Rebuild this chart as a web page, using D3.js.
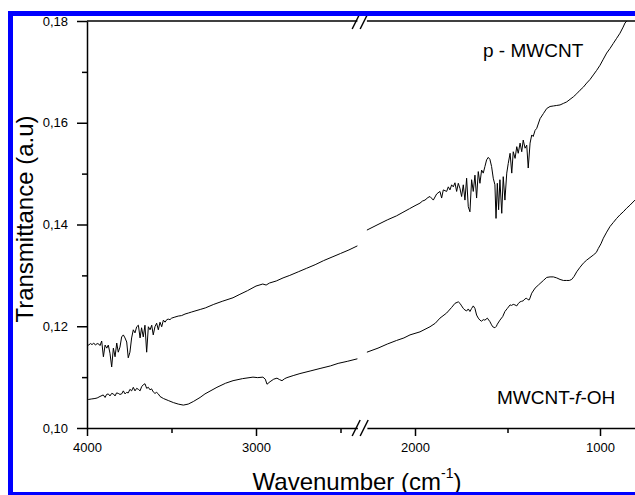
<!DOCTYPE html>
<html>
<head>
<meta charset="utf-8">
<script src="https://cdn.jsdelivr.net/npm/d3@7/dist/d3.min.js"></script>
<style>
  body { margin: 0; background: #fff; }
  text { font-family: Arial, "Liberation Sans", sans-serif; fill: #000; }
</style>
</head>
<body>
<div id="chart"></div>
<script>
// ticks
var xTicksLeft = [4000, 3000];
var xMinorLeft = [3500, 2500];
var xTicksRight = [2000, 1000];
var xMinorRight = [1500];
var yTicks = [0.10, 0.12, 0.14, 0.16, 0.18];
var yMinor = [0.11, 0.13, 0.15, 0.17];

// p - MWCNT, [wavenumber, transmittance]
var pMwcntLeft = [
  [4000,0.1165],[3990,0.1163],[3980,0.1166],[3970,0.1164],[3960,0.1167],[3950,0.1163],[3940,0.1166],
  [3930,0.1165],[3923,0.1162],[3913,0.1171],[3903,0.1140],[3893,0.1163],[3883,0.1157],[3874,0.1163],
  [3864,0.1147],[3854,0.1120],[3844,0.1157],[3834,0.1140],[3824,0.1167],[3815,0.1149],[3805,0.1159],
  [3795,0.1179],[3785,0.1183],[3775,0.1177],[3765,0.1169],[3756,0.1138],[3746,0.1149],[3736,0.1177],
  [3726,0.1193],[3716,0.1187],[3706,0.1199],[3696,0.1202],[3686,0.1177],[3677,0.1197],[3667,0.1179],
  [3657,0.1202],[3647,0.1149],[3637,0.1199],[3627,0.1193],[3617,0.1202],[3608,0.1183],[3598,0.1199],
  [3588,0.1206],[3578,0.1193],[3568,0.1208],[3558,0.1199],[3548,0.1212],[3538,0.1208],[3528,0.1213],
  [3519,0.1214],[3509,0.1213],[3499,0.1216],[3480,0.1218],[3460,0.1220],[3440,0.1221],[3420,0.1224],
  [3400,0.1226],[3381,0.1228],[3361,0.1230],[3330,0.1233],[3300,0.1236],[3250,0.1243],[3200,0.1249],
  [3136,0.1256],[3100,0.1262],[3050,0.1270],[3000,0.1279],[2960,0.1283],[2940,0.1281],[2920,0.1285],
  [2880,0.1289],[2840,0.1295],[2800,0.1300],[2750,0.1307],[2700,0.1314],[2650,0.1321],[2600,0.1329],
  [2550,0.1336],[2500,0.1343],[2450,0.1350],[2400,0.1358]
];
var pMwcntRight = [
  [2260,0.1389],[2200,0.1400],[2150,0.1409],[2100,0.1417],[2070,0.1423],[2030,0.1431],[2000,0.1437],
  [1973,0.1442],[1960,0.1446],[1946,0.1448],[1930,0.1453],[1919,0.1455],[1901,0.1448],[1883,0.1460],
  [1865,0.1465],[1856,0.1452],[1847,0.1468],[1829,0.1465],[1820,0.1474],[1811,0.1468],[1802,0.1478],
  [1793,0.1474],[1784,0.1482],[1775,0.1465],[1766,0.1481],[1757,0.1471],[1748,0.1455],[1739,0.1478],
  [1730,0.1448],[1721,0.1491],[1712,0.1435],[1703,0.1425],[1694,0.1488],[1685,0.1465],[1676,0.1497],
  [1667,0.1452],[1658,0.1504],[1649,0.1481],[1640,0.1507],[1631,0.1501],[1622,0.1514],[1613,0.1527],
  [1604,0.1532],[1595,0.1528],[1586,0.1514],[1577,0.1491],[1568,0.1478],[1562,0.1412],[1555,0.1481],
  [1548,0.1429],[1541,0.1488],[1531,0.1422],[1523,0.1494],[1514,0.1448],[1504,0.1501],[1496,0.1520],
  [1486,0.1540],[1477,0.1501],[1469,0.1543],[1459,0.1530],[1450,0.1553],[1442,0.1540],[1432,0.1560],
  [1423,0.1543],[1415,0.1566],[1405,0.1550],[1396,0.1556],[1388,0.1511],[1378,0.1560],[1369,0.1576],
  [1361,0.1573],[1351,0.1585],[1342,0.1589],[1324,0.1608],[1306,0.1618],[1288,0.1628],[1270,0.1632],
  [1252,0.1633],[1234,0.1634],[1216,0.1635],[1198,0.1638],[1180,0.1641],[1162,0.1646],[1144,0.1651],
  [1126,0.1657],[1108,0.1664],[1090,0.1670],[1072,0.1678],[1054,0.1685],[1036,0.1694],[1018,0.1703],
  [1000,0.1713],[982,0.1725],[964,0.1737],[946,0.1746],[928,0.1756],[910,0.1766],[892,0.1776],
  [875,0.1788],[865,0.1796],[853,0.1801],[830,0.1840],[800,0.1890]
];

// MWCNT-f-OH
var mwcntOhLeft = [
  [4000,0.1055],[3992,0.1056],[3975,0.1057],[3953,0.1058],[3940,0.1059],[3923,0.1062],[3904,0.1065],
  [3893,0.1060],[3884,0.1066],[3874,0.1067],[3864,0.1063],[3854,0.1068],[3844,0.1067],[3834,0.1063],
  [3825,0.1069],[3815,0.1068],[3805,0.1066],[3795,0.1067],[3785,0.1073],[3775,0.1067],[3766,0.1070],
  [3756,0.1069],[3746,0.1076],[3736,0.1073],[3726,0.1080],[3716,0.1073],[3706,0.1078],[3696,0.1076],
  [3686,0.1073],[3677,0.1081],[3667,0.1085],[3657,0.1087],[3647,0.1078],[3637,0.1080],[3627,0.1075],
  [3618,0.1077],[3608,0.1071],[3598,0.1068],[3588,0.1070],[3578,0.1067],[3568,0.1062],[3548,0.1058],
  [3519,0.1054],[3489,0.1050],[3460,0.1047],[3430,0.1045],[3401,0.1047],[3371,0.1052],[3331,0.1060],
  [3302,0.1067],[3231,0.1080],[3180,0.1088],[3136,0.1093],[3080,0.1097],[3018,0.1100],[2990,0.1099],
  [2959,0.1100],[2945,0.1096],[2935,0.1086],[2917,0.1091],[2895,0.1096],[2876,0.1098],[2860,0.1095],
  [2846,0.1093],[2830,0.1097],[2817,0.1099],[2780,0.1103],[2740,0.1107],[2680,0.1112],[2621,0.1117],
  [2560,0.1122],[2514,0.1127],[2460,0.1131],[2400,0.1136]
];
var mwcntOhRight = [
  [2260,0.1149],[2200,0.1157],[2150,0.1165],[2100,0.1172],[2060,0.1177],[2027,0.1183],[1973,0.1189],
  [1919,0.1199],[1890,0.1206],[1865,0.1216],[1829,0.1226],[1802,0.1237],[1784,0.1245],[1766,0.1248],
  [1757,0.1245],[1748,0.1240],[1739,0.1235],[1730,0.1232],[1721,0.1230],[1712,0.1234],[1703,0.1229],
  [1694,0.1235],[1685,0.1240],[1676,0.1235],[1667,0.1222],[1658,0.1216],[1649,0.1212],[1640,0.1210],
  [1631,0.1213],[1622,0.1212],[1609,0.1216],[1595,0.1209],[1588,0.1204],[1580,0.1199],[1568,0.1197],
  [1560,0.1200],[1555,0.1204],[1541,0.1212],[1526,0.1219],[1514,0.1229],[1501,0.1235],[1486,0.1242],
  [1478,0.1241],[1469,0.1243],[1460,0.1242],[1450,0.1240],[1441,0.1245],[1432,0.1248],[1424,0.1249],
  [1415,0.1250],[1405,0.1254],[1396,0.1255],[1389,0.1252],[1382,0.1252],[1369,0.1265],[1351,0.1275],
  [1333,0.1281],[1324,0.1284],[1306,0.1290],[1288,0.1296],[1270,0.1297],[1252,0.1297],[1234,0.1295],
  [1216,0.1292],[1198,0.1290],[1180,0.1290],[1166,0.1290],[1153,0.1292],[1140,0.1298],[1126,0.1307],
  [1108,0.1316],[1090,0.1324],[1072,0.1330],[1054,0.1335],[1036,0.1340],[1020,0.1345],[1009,0.1353],
  [995,0.1362],[982,0.1373],[964,0.1385],[946,0.1396],[928,0.1404],[910,0.1412],[892,0.1419],
  [874,0.1425],[856,0.1432],[838,0.1438],[811,0.1448],[800,0.1451]
];

(function () {
  var width = 635, height = 495;
  var plotLeft = 87, plotTop = 21, plotBottom = 428;

  var svg = d3.select("#chart").append("svg")
    .attr("width", width).attr("height", height);
  svg.append("rect").attr("width", width).attr("height", height).attr("fill", "#fff");

  // broken x axis: two linear pieces
  var xLeft = d3.scaleLinear().domain([4000, 2400]).range([plotLeft, 357.4]);
  var xRight = d3.scaleLinear().domain([2260, 800]).range([366.9, 637]);
  var y = d3.scaleLinear().domain([0.10, 0.18]).range([plotBottom, plotTop]);

  svg.append("clipPath").attr("id", "plot")
    .append("rect").attr("x", plotLeft).attr("y", plotTop)
    .attr("width", width - plotLeft).attr("height", plotBottom - plotTop);

  function drawLine(data, xs) {
    var line = d3.line().x(function (d) { return xs(d[0]); }).y(function (d) { return y(d[1]); });
    svg.append("path").datum(data)
      .attr("clip-path", "url(#plot)")
      .attr("d", line)
      .attr("fill", "none").attr("stroke", "#000").attr("stroke-width", 1);
  }
  drawLine(pMwcntLeft, xLeft);
  drawLine(pMwcntRight, xRight);
  drawLine(mwcntOhLeft, xLeft);
  drawLine(mwcntOhRight, xRight);

  function styleAxis(g) {
    g.attr("font-size", 13).attr("font-family", "Arial, 'Liberation Sans', sans-serif");
    g.selectAll("path, line").attr("stroke", "#000").attr("stroke-width", 1.5);
  }

  // x axes
  [[xLeft, xTicksLeft, xMinorLeft], [xRight, xTicksRight, xMinorRight]].forEach(function (p) {
    var gMinor = svg.append("g").attr("transform", "translate(0," + plotBottom + ")")
      .call(d3.axisBottom(p[0]).tickValues(p[2]).tickSize(5).tickSizeOuter(0).tickFormat(""));
    gMinor.select(".domain").remove();
    styleAxis(gMinor);
    var g = svg.append("g").attr("transform", "translate(0," + plotBottom + ")")
      .call(d3.axisBottom(p[0]).tickValues(p[1]).tickSize(8).tickPadding(7).tickSizeOuter(0).tickFormat(d3.format("d")));
    styleAxis(g);
  });

  // y axis
  var gyMinor = svg.append("g").attr("transform", "translate(" + plotLeft + ",0)")
    .call(d3.axisLeft(y).tickValues(yMinor).tickSize(5).tickSizeOuter(0).tickFormat(""));
  gyMinor.select(".domain").remove();
  styleAxis(gyMinor);
  var gy = svg.append("g").attr("transform", "translate(" + plotLeft + ",0)")
    .call(d3.axisLeft(y).tickValues(yTicks).tickSize(10).tickPadding(9).tickSizeOuter(0)
      .tickFormat(function (d) { return d3.format(".2f")(d).replace(".", ","); }));
  styleAxis(gy);

  // top frame line, broken like the x axis
  svg.append("line").attr("x1", plotLeft).attr("x2", xLeft.range()[1]).attr("y1", plotTop).attr("y2", plotTop)
    .attr("stroke", "#000").attr("stroke-width", 1.5);
  svg.append("line").attr("x1", xRight.range()[0]).attr("x2", width).attr("y1", plotTop).attr("y2", plotTop)
    .attr("stroke", "#000").attr("stroke-width", 1.5);

  // break marks //
  var breakX = (xLeft.range()[1] + xRight.range()[0]) / 2;
  [plotTop, plotBottom].forEach(function (yy) {
    [0, 1].forEach(function (i) {
      svg.append("line")
        .attr("x1", breakX - 10 + 8 * i).attr("y1", yy + 8)
        .attr("x2", breakX - 2 + 8 * i).attr("y2", yy - 8)
        .attr("stroke", "#000").attr("stroke-width", 1.5);
    });
  });

  // series labels
  svg.append("text").attr("x", 483).attr("y", 57).style("font-size", "19px").text("p - MWCNT");
  var lab = svg.append("text").attr("x", 497).attr("y", 404).style("font-size", "19px");
  lab.append("tspan").text("MWCNT-");
  lab.append("tspan").style("font-style", "italic").text("f");
  lab.append("tspan").text("-OH");

  // axis titles
  svg.append("text")
    .attr("transform", "translate(33,219) rotate(-90)")
    .attr("text-anchor", "middle").style("font-size", "24px")
    .text("Transmittance (a.u)");
  var xt = svg.append("text").attr("x", 357).attr("y", 490)
    .attr("text-anchor", "middle").style("font-size", "24px");
  xt.append("tspan").text("Wavenumber (cm");
  xt.append("tspan").attr("dy", -12).style("font-size", "14px").text("-1");
  xt.append("tspan").attr("dy", 12).text(")");

  // blue border
  svg.append("rect").attr("x", 8).attr("y", 11).attr("width", 5).attr("height", height - 11).attr("fill", "#0000ff");
  svg.append("rect").attr("x", 8).attr("y", 11).attr("width", width - 8).attr("height", 5).attr("fill", "#0000ff");
  svg.append("rect").attr("x", 8).attr("y", 492).attr("width", width - 8).attr("height", 3).attr("fill", "#0000ff");
})();
</script>
</body>
</html>
